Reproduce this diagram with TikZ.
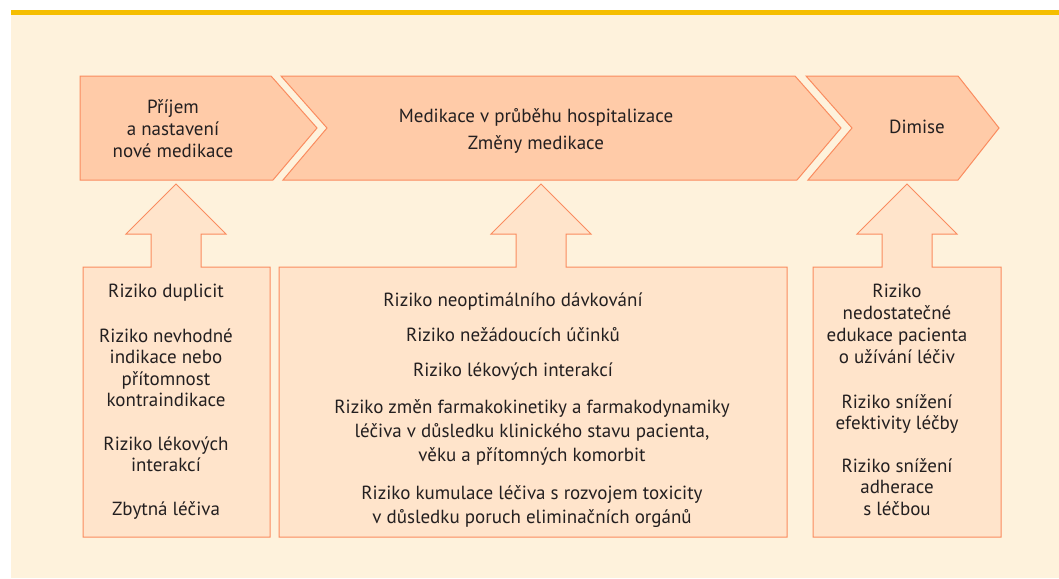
\documentclass[tikz,border=0pt]{standalone}
\usepackage{fontspec}
\setmainfont{PT Sans}
\usepackage{tikz}
\usetikzlibrary{shapes,arrows,positioning,calc}
\definecolor{cream}{HTML}{FEF2DC}
\definecolor{gold}{HTML}{F5BE00}
\definecolor{edge}{HTML}{FA8C5F}
\definecolor{chevfill}{HTML}{FFCBA8}
\definecolor{boxfill}{HTML}{FFE4CB}
\definecolor{ink}{HTML}{231F20}

\begin{document}
\begin{tikzpicture}[x=1pt,y=-1pt,
    chev/.style={draw=edge,fill=chevfill,line width=1pt},
    riskbox/.style={draw=edge,fill=boxfill,line width=1pt},
    txt/.style={align=center,inner sep=0pt,anchor=base,text=ink,
      font=\fontsize{19}{21.5}\selectfont},
    wide/.style={txt,font=\fontsize{19}{24}\selectfont}]
  \useasboundingbox (0,0) rectangle (1059,578);
  \fill[cream] (11,15) rectangle (1059,578);
  \fill[gold] (11,10) rectangle (1059,15);

  \draw[chev] (80,76) -- (271,76) -- (317,128) -- (273,180) -- (80,180) -- cycle;
  \draw[chev] (281,76) -- (795,76) -- (841,128) -- (797,180) -- (283,180) -- (327,128) -- cycle;
  \draw[chev] (806,76) -- (958,76) -- (999,128) -- (958,180) -- (808,180) -- (852,128) -- cycle;

  \foreach \l/\r/\m in {83/270/176, 279/787/541, 813/1001/907}
    \draw[riskbox] (\l,537) -- (\l,267) -- (\m-25,267) -- (\m-25,234) -- (\m-50,234)
      -- (\m,184) -- (\m+50,234) -- (\m+25,234) -- (\m+25,267) -- (\r,267) -- (\r,537) -- cycle;

  \node[txt,font=\fontsize{19}{22}\selectfont] (prijem) at (173,157) {Příjem\\a nastavení\\nové medikace};
  \node[txt,font=\fontsize{19}{27}\selectfont] (hosp) at (536,149)
    {Medikace v průběhu hospitalizace\\Změny medikace};
  \node[txt] (dimise) at (917,133) {Dimise};

  \node[txt] (dup) at (166,297) {Riziko duplicit};
  \node[txt] (indik) at (166,406.5) {Riziko nevhodné\\indikace nebo\\přítomnost\\kontraindikace};
  \node[txt] (lek) at (166,471.5) {Riziko lékových\\interakcí};
  \node[txt] (zbyt) at (166,515) {Zbytná léčiva};

  \node[txt] (davk) at (513,306) {Riziko neoptimálního dávkování};
  \node[txt] (ucin) at (513,341) {Riziko nežádoucích účinků};
  \node[txt] (inter) at (513,376) {Riziko lékových interakcí};
  \node[wide] (farm) at (532,461) {Riziko změn farmakokinetiky a farmakodynamiky\\léčiva
    v důsledku klinického stavu pacienta,\\věku a přítomných komorbit};
  \node[wide] (kum) at (532,523) {Riziko kumulace léčiva s rozvojem toxicity\\v důsledku
    poruch eliminačních orgánů};

  \node[txt,font=\fontsize{19}{22}\selectfont] (eduk) at (897,363) {Riziko\\nedostatečné\\edukace pacienta\\o užívání léčiv};
  \node[txt] (efek) at (897,429.5) {Riziko snížení\\efektivity léčby};
  \node[txt] (adh) at (897,515) {Riziko snížení\\adherace\\s léčbou};
\end{tikzpicture}
\end{document}
